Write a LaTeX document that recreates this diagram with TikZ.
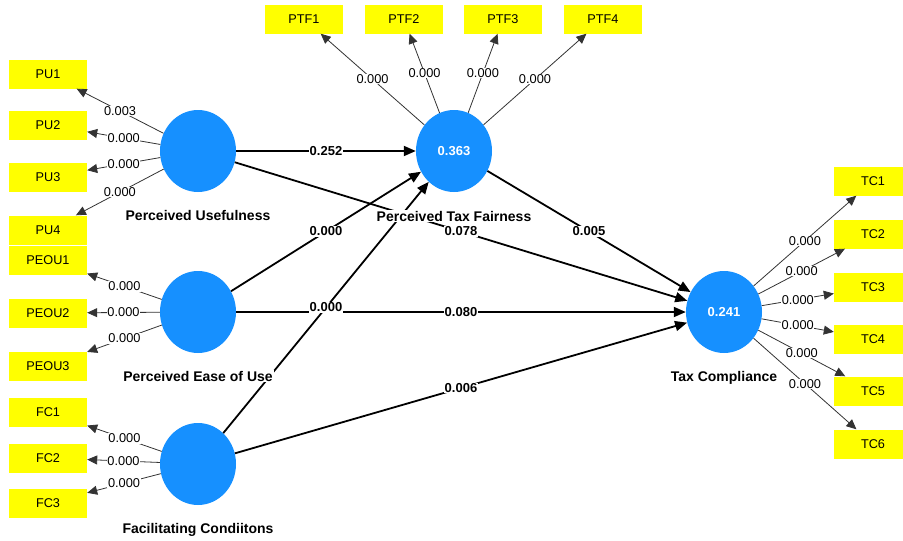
\documentclass[tikz,border=0pt]{standalone}
\usepackage{fontspec}
\setmainfont{Liberation Sans}
\usetikzlibrary{arrows.meta,shapes.geometric,positioning}
\definecolor{lvblue}{RGB}{22,144,255}
\definecolor{mvyellow}{RGB}{255,255,0}

\begin{document}
\begin{tikzpicture}[x=1pt,y=-1pt,
    lv/.style={ellipse,fill=lvblue,minimum width=76pt,minimum height=82pt,
        inner sep=0pt,text=white,font=\fontsize{13}{13}\selectfont\bfseries},
    mv/.style={fill=mvyellow,minimum width=78pt,minimum height=29pt,
        inner sep=0pt,font=\fontsize{12.7}{13}\selectfont},
    load/.style={draw=black!80,line width=0.8pt,-{Triangle[length=10pt,width=9pt]}},
    struct/.style={draw=black,line width=1.8pt,-{Triangle[length=12pt,width=10pt]}},
    wlab/.style={fill=white,inner sep=0.6pt,font=\fontsize{12.8}{13}\selectfont},
    plab/.style={fill=white,inner sep=0.6pt,font=\fontsize{13}{13}\selectfont\bfseries},
    lvname/.style={fill=white,inner sep=1pt,anchor=base,font=\fontsize{14}{14}\selectfont\bfseries}]
    \useasboundingbox (0,0) rectangle (903,541);

    \node[lv] (pu) at (198,151) {};
    \node[lv] (ptf) at (454,151) {0.363};
    \node[lv] (peou) at (198,312) {};
    \node[lv] (fc) at (198,464) {};
    \node[lv] (tc) at (724,312) {0.241};

    \foreach \i/\y in {1/74,2/125,3/177,4/230}
        \node[mv] (pu\i) at (48,\y) {PU\i};
    \foreach \i/\y in {1/260,2/313,3/366}
        \node[mv] (peou\i) at (48,\y) {PEOU\i};
    \foreach \i/\y in {1/412,2/458,3/503}
        \node[mv] (fc\i) at (48,\y) {FC\i};
    \foreach \i/\x in {1/304,2/404,3/503,4/603}
        \node[mv] (ptf\i) at (\x,19) {PTF\i};
    \foreach \i/\y in {1/181,2/234,3/287,4/339,5/391,6/444}
        \node[mv] (tc\i) at (873,\y) {TC\i};

    \foreach \i/\v in {1/0.003,2/0.000,3/0.000,4/0.000}
        \draw[load] (pu) -- node[wlab] {\v} (pu\i);
    \foreach \i in {1,2,3}
        \draw[load] (peou) -- node[wlab] {0.000} (peou\i);
    \foreach \i in {1,2,3}
        \draw[load] (fc) -- node[wlab] {0.000} (fc\i);
    \foreach \i in {1,2,3,4}
        \draw[load] (ptf) -- node[wlab] {0.000} (ptf\i);
    \foreach \i in {1,...,6}
        \draw[load] (tc) -- node[wlab] {0.000} (tc\i);

    \draw[struct] (pu) -- node[plab] {0.252} (ptf);
    \draw[struct] (pu) -- node[plab] {0.078} (tc);
    \draw[struct] (peou) -- node[plab] {0.000} (ptf);
    \draw[struct] (peou) -- node[plab] {0.080} (tc);
    \draw[struct] (fc) -- node[plab] {0.000} (ptf);
    \draw[struct] (fc) -- node[plab] {0.006} (tc);
    \draw[struct] (ptf) -- node[plab] {0.005} (tc);

    \node[lvname] (pu-name) at ([yshift=-69pt]pu.center) {Perceived Usefulness};
    \node[lvname] (ptf-name) at ([yshift=-70pt]ptf.center) {Perceived Tax Fairness};
    \node[lvname] (peou-name) at ([yshift=-69pt]peou.center) {Perceived Ease of Use};
    \node[lvname] (fc-name) at ([yshift=-69pt]fc.center) {Facilitating Condiitons};
    \node[lvname] (tc-name) at ([yshift=-69pt]tc.center) {Tax Compliance};
\end{tikzpicture}
\end{document}
